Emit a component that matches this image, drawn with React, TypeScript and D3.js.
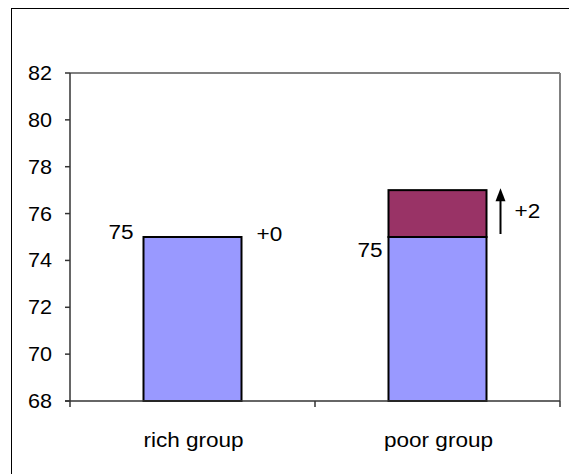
import React from "react";
import * as d3 from "d3";

const categories = ["rich group", "poor group"];
const baseValues = [75, 75];
const increments = [0, 2];
const baseLabels = ["75", "75"];
const changeLabels = ["+0", "+2"];
const yTicks = [68, 70, 72, 74, 76, 78, 80, 82];

const W = 569;
const H = 474;
const plot = { left: 70, top: 73, right: 560, bottom: 401 };
const FONT = "'Liberation Sans', Arial, sans-serif";

function T(props: {
  x: number;
  y: number;
  size: number;
  sx: number;
  anchor?: "start" | "middle" | "end";
  children: React.ReactNode;
}) {
  return (
    <g transform={`translate(${props.x},${props.y}) scale(${props.sx},1)`}>
      <text x={0} y={0} fontSize={props.size} textAnchor={props.anchor || "start"} fill="#000">
        {props.children}
      </text>
    </g>
  );
}

export default function App() {
  const x = d3
    .scaleBand<string>()
    .domain(categories)
    .range([plot.left, plot.right])
    .paddingInner(0.6)
    .paddingOuter(0.3);
  const band = d3.scaleBand<string>().domain(categories).range([plot.left, plot.right]);
  const y = d3.scaleLinear().domain([68, 82]).range([plot.bottom, plot.top]);
  const bw = x.bandwidth();

  return (
    <svg
      width={W}
      height={H}
      style={{ position: "absolute", left: 0, top: 0, background: "#fff" }}
      fontFamily={FONT}
    >
      <rect x={0} y={0} width={W} height={H} fill="#fff" />
      {/* outer frame */}
      <rect x={11.5} y={8.5} width={600} height={600} fill="none" stroke="#000" strokeWidth={1} />
      {/* plot area border top/right */}
      <line x1={plot.left} y1={plot.top} x2={plot.right} y2={plot.top} stroke="#808080" strokeWidth={2} />
      <line x1={plot.right} y1={plot.top} x2={plot.right} y2={plot.bottom} stroke="#808080" strokeWidth={2} />

      {/* bars */}
      {categories.map((c, i) => {
        const x0 = x(c)!;
        return (
          <g key={c}>
            <rect
              x={x0}
              y={y(baseValues[i])}
              width={bw}
              height={y(68) - y(baseValues[i])}
              fill="#9999FF"
              stroke="#000"
              strokeWidth={2}
            />
            {increments[i] > 0 && (
              <rect
                x={x0}
                y={y(baseValues[i] + increments[i])}
                width={bw}
                height={y(baseValues[i]) - y(baseValues[i] + increments[i])}
                fill="#993366"
                stroke="#000"
                strokeWidth={2}
              />
            )}
          </g>
        );
      })}

      {/* axes */}
      <line x1={plot.left} y1={plot.top} x2={plot.left} y2={plot.bottom} stroke="#333" strokeWidth={1.5} />
      <line x1={plot.left - 5} y1={plot.bottom} x2={plot.right} y2={plot.bottom} stroke="#333" strokeWidth={1.5} />
      {yTicks.map((t) => (
        <g key={t}>
          <line x1={plot.left - 5} y1={y(t)} x2={plot.left} y2={y(t)} stroke="#333" strokeWidth={1.5} />
          <T x={52} y={y(t) + 7} size={20} sx={1.08} anchor="end">
            {t}
          </T>
        </g>
      ))}
      {[plot.left, ...categories.map((c) => band(c)! + band.bandwidth())].map((px, i) => (
        <line key={i} x1={px} y1={plot.bottom} x2={px} y2={plot.bottom + 6} stroke="#333" strokeWidth={1.5} />
      ))}
      {categories.map((c) => (
        <T key={c} x={band(c)! + band.bandwidth() / 2 + 1} y={447} size={20.5} sx={1.1} anchor="middle">
          {c}
        </T>
      ))}

      {/* annotations */}
      {categories.map((c, i) => {
        const x0 = x(c)!;
        const top = y(baseValues[i] + increments[i]);
        const baseY = y(baseValues[i]);
        const hasInc = increments[i] > 0;
        return (
          <g key={"a" + c}>
            <T
              x={x0 - (hasInc ? 6 : 10)}
              y={hasInc ? baseY + 20 : baseY + 2}
              size={20.5}
              sx={1.1}
              anchor="end"
            >
              {baseLabels[i]}
            </T>
            <T
              x={x0 + bw + (hasInc ? 28 : 15)}
              y={hasInc ? top + 28 : baseY + 4}
              size={20.5}
              sx={1.1}
            >
              {changeLabels[i]}
            </T>
            {hasInc && (
              <g>
                <line
                  x1={x0 + bw + 14}
                  y1={baseY - 3}
                  x2={x0 + bw + 14}
                  y2={top + 8}
                  stroke="#000"
                  strokeWidth={2}
                />
                <path
                  d={`M${x0 + bw + 14},${top - 2} L${x0 + bw + 9},${top + 11} L${x0 + bw + 19},${top + 11} Z`}
                  fill="#000"
                />
              </g>
            )}
          </g>
        );
      })}
    </svg>
  );
}
